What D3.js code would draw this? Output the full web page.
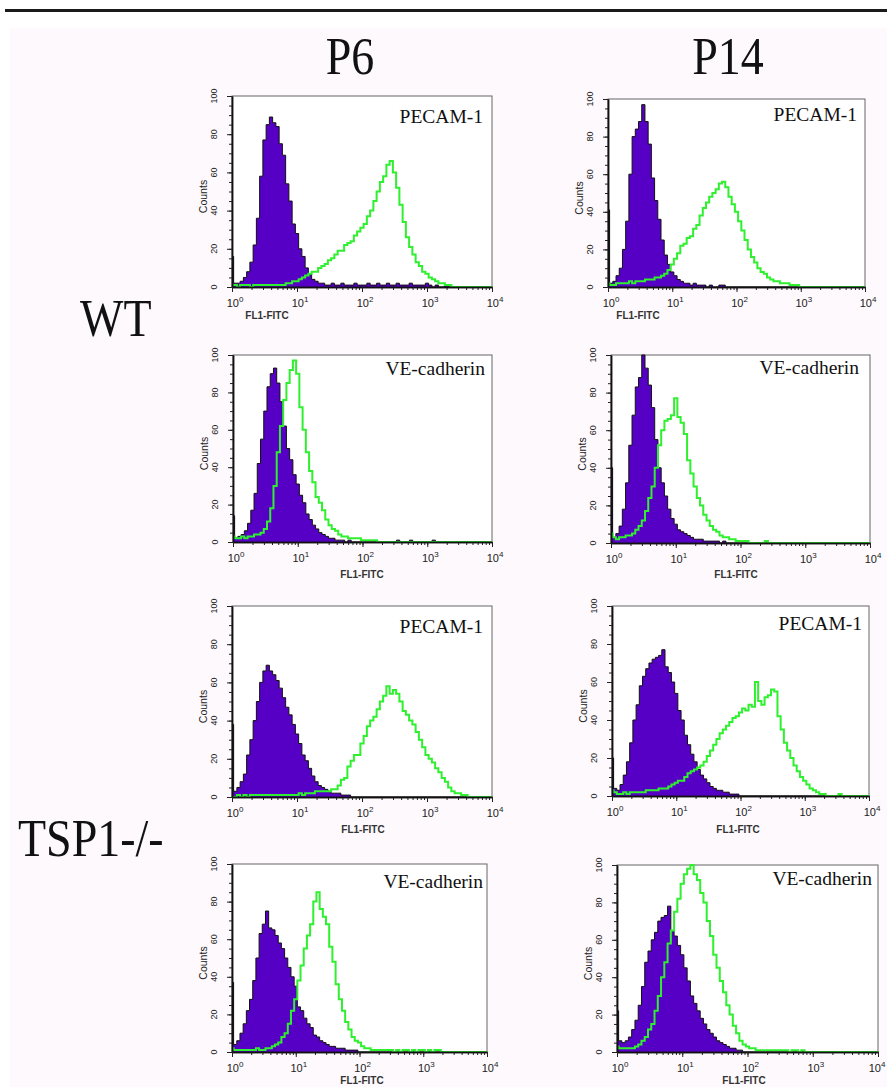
<!DOCTYPE html>
<html><head><meta charset="utf-8">
<script src="https://cdn.jsdelivr.net/npm/d3@7"></script>
<style>
html,body{margin:0;padding:0;background:#fff;}
svg{display:block;}
</style></head><body>
<svg id="chart" width="887" height="1087"></svg>
<script>
// ---------- DATA ----------
const columnLabels = ["P6", "P14"];
const rowLabels = ["WT", "TSP1-/-"];
const markerLabels = ["PECAM-1", "VE-cadherin"];
const yTickValues = [0, 20, 40, 60, 80, 100];
const xTickExponents = [0, 1, 2, 3, 4];
const xAxisTitle = "FL1-FITC";
const yAxisTitle = "Counts";
const logStep = 0.05; // bin width in decades (81 bins from 10^0 to 10^4)

// WT, P6, PECAM-1
const wtP6PecamControl = [16,2,2,3,5,8,13,22,36,58, 77,85,89,86,84,75,69,54,45,33, 28,20,16,10,7,4,3,2,2,1, 1,2,1,1,2,1,1,1,2,1, 1,1,2,1,1,2,1,1,2,1, 1,2,1,1,1,2,1,1,1,1, 2,1,0,1,0,0,1,0,0,0, 0,0,0,0,0,0,0,0,0,0, 0];
const wtP6PecamStained = [1,1,0,1,1,1,0,1,1,1, 1,1,1,1,1,1,1,2,2,3, 3,4,5,6,7,8,8,10,11,12, 14,15,17,19,19,22,23,24,27,29, 31,33,37,40,45,50,55,58,64,66, 60,52,43,34,26,21,17,13,11,8, 7,5,4,3,2,2,1,1,0,0, 0,0,0,0,0,0,0,0,0,0, 0];
// WT, P14, PECAM-1
const wtP14PecamControl = [41,2,3,6,10,20,35,60,80,84, 88,97,88,76,58,46,36,25,17,12, 8,6,4,3,2,2,1,2,1,1, 1,0,1,0,0,1,1,0,0,0, 0,0,0,0,0,0,0,0,0,0, 0,0,0,0,0,0,0,0,0,0, 0,0,0,0,0,0,0,0,0,0, 0,0,0,0,0,0,0,0,0,0, 0];
const wtP14PecamStained = [2,1,1,2,2,2,2,3,2,3, 3,3,4,4,4,5,5,6,7,9, 12,15,18,22,23,26,27,31,33,38, 42,45,48,50,52,55,56,53,48,44, 40,35,30,25,20,16,13,10,8,7, 5,4,3,3,2,2,2,1,1,1, 0,0,0,0,0,0,0,0,0,0, 0,0,0,0,0,0,0,0,0,0, 0];
// WT, P6, VE-cadherin
const wtP6VeControl = [14,2,3,4,6,10,17,26,42,55, 70,83,90,93,85,75,62,50,44,36, 31,25,21,15,12,9,7,5,4,3, 2,2,1,1,1,0,1,0,0,0, 0,0,0,0,0,0,0,0,0,0, 0,1,0,0,0,1,0,0,0,0, 0,0,1,0,0,0,0,0,0,0, 0,0,0,0,0,0,0,0,0,0, 0];
const wtP6VeStained = [3,2,2,3,2,3,3,4,4,5, 7,11,18,30,48,62,76,85,92,97, 90,72,60,48,38,32,24,21,17,12, 9,7,6,4,3,3,2,2,2,2, 1,1,1,1,1,0,0,0,0,0, 0,0,0,0,0,0,0,0,0,0, 0,0,0,0,0,0,0,0,0,0, 0,0,0,0,0,0,0,0,0,0, 0];
// WT, P14, VE-cadherin
const wtP14VeControl = [40,3,5,9,18,32,52,68,83,88, 100,93,84,72,55,40,32,25,18,13, 10,7,6,5,4,3,2,2,2,1, 1,1,1,1,0,1,0,0,0,0, 0,0,0,0,0,0,0,0,0,0, 0,0,0,0,0,0,0,0,0,0, 0,0,0,0,0,0,0,0,0,0, 0,0,0,0,0,0,0,0,0,0, 0];
const wtP14VeStained = [5,3,2,3,3,4,4,5,7,9, 12,17,24,30,40,52,60,65,66,68, 77,67,64,58,44,37,30,24,20,15, 12,9,7,6,4,3,3,2,2,1, 1,1,1,0,0,0,0,0,1,0, 0,0,0,0,0,0,0,0,0,0, 0,0,0,0,0,0,0,0,0,0, 0,0,0,0,0,0,0,0,0,0, 0];
// TSP1-/-, P6, PECAM-1
const koP6PecamControl = [38,3,5,8,12,22,30,40,50,60, 66,69,66,64,61,57,52,47,43,38, 33,28,22,19,15,11,8,6,5,4, 3,2,2,2,1,1,1,0,0,0, 0,0,0,0,0,0,0,0,0,0, 0,0,0,0,0,0,0,0,0,0, 0,0,0,0,0,0,0,0,0,0, 0,0,0,0,0,0,0,0,0,0, 0];
const koP6PecamStained = [0,0,1,0,1,0,1,1,1,1, 1,1,1,1,1,1,1,1,1,1, 1,2,1,2,2,2,3,3,3,3, 3,4,4,6,9,10,16,19,22,22, 28,32,37,40,42,46,50,53,58,54, 56,54,50,45,43,40,38,34,30,26, 22,20,18,15,13,10,8,5,3,2, 2,1,1,0,0,0,0,0,0,0, 0];
// TSP1-/-, P14, PECAM-1
const koP14PecamControl = [20,4,3,6,11,18,28,40,48,58, 63,67,70,72,73,74,77,68,65,60, 54,45,40,32,27,22,18,14,11,9, 7,5,4,3,3,2,2,1,1,1, 0,0,0,0,0,0,0,0,0,0, 0,0,0,0,0,0,0,0,0,0, 0,0,0,0,0,0,0,0,0,0, 0,0,0,0,0,0,0,0,0,0, 0];
const koP14PecamStained = [3,2,1,1,2,1,2,2,2,2, 2,3,3,3,3,4,4,4,5,6, 7,8,8,10,12,13,14,15,16,18, 21,24,27,30,33,35,37,39,41,42, 44,46,45,48,47,60,50,48,52,53, 56,55,42,35,28,24,20,16,13,10, 8,6,4,3,2,1,1,0,0,0, 0,1,0,0,0,0,0,0,0,0, 0];
// TSP1-/-, P6, VE-cadherin
const koP6VeControl = [37,4,6,10,15,22,28,38,50,63, 68,75,66,65,62,58,55,50,45,40, 35,24,22,18,15,13,9,8,6,5, 4,3,3,2,2,2,1,1,1,1, 0,0,0,0,0,0,0,0,0,0, 0,0,0,0,0,0,0,0,0,0, 0,0,0,0,0,0,0,0,0,0, 0,0,0,0,0,0,0,0,0,0, 0];
const koP6VeStained = [2,1,1,1,1,1,1,1,2,1, 1,2,2,3,4,5,8,10,15,22, 28,38,46,55,62,68,80,85,76,72, 68,56,48,36,28,22,16,12,8,6, 5,3,2,2,1,1,1,1,1,1, 1,0,1,0,1,1,0,1,0,1, 1,0,1,0,1,1,0,0,0,0, 0,0,0,0,0,0,0,0,0,0, 0];
// TSP1-/-, P14, VE-cadherin
const koP14VeControl = [22,6,5,6,8,12,17,25,35,48, 54,60,64,70,72,73,78,65,62,57, 52,45,38,30,26,22,18,15,12,10, 8,6,5,4,3,2,2,1,1,0, 0,0,0,0,0,0,0,0,0,0, 0,0,0,0,0,0,0,0,0,0, 0,0,0,0,0,0,0,0,0,0, 0,0,0,0,0,0,0,0,0,0, 0];
const koP14VeStained = [3,2,2,2,2,2,3,4,6,8, 12,15,22,30,40,48,58,65,75,82, 90,95,98,100,95,92,85,80,70,62, 52,45,38,32,25,20,14,10,6,4, 3,2,2,1,1,1,1,1,1,1, 1,1,1,0,1,1,0,1,0,0, 0,0,0,0,0,0,0,0,0,0, 0,0,0,0,0,0,0,0,0,0, 0];

// ---------- PANEL ORDER ----------
const panels = [
  {col:0, row:0, marker:markerLabels[0], control:wtP6PecamControl,  stained:wtP6PecamStained},
  {col:1, row:0, marker:markerLabels[0], control:wtP14PecamControl, stained:wtP14PecamStained},
  {col:0, row:0, marker:markerLabels[1], control:wtP6VeControl,     stained:wtP6VeStained},
  {col:1, row:0, marker:markerLabels[1], control:wtP14VeControl,    stained:wtP14VeStained},
  {col:0, row:1, marker:markerLabels[0], control:koP6PecamControl,  stained:koP6PecamStained},
  {col:1, row:1, marker:markerLabels[0], control:koP14PecamControl, stained:koP14PecamStained},
  {col:0, row:1, marker:markerLabels[1], control:koP6VeControl,     stained:koP6VeStained},
  {col:1, row:1, marker:markerLabels[1], control:koP14VeControl,    stained:koP14VeStained}
];

// ---------- LAYOUT (pixels) ----------
const layout = [
  {l:232, t:96,  r:492, b:287,  mx:9,  my:27, tx:267, ty:319},
  {l:608, t:99,  r:865, b:287,  mx:8,  my:22, tx:638, ty:319},
  {l:233, t:355, r:492, b:542,  mx:7,  my:20, tx:362, ty:578},
  {l:611, t:355, r:870, b:543,  mx:11, my:19, tx:736, ty:578},
  {l:232, t:606, r:492, b:797,  mx:9,  my:27, tx:363, ty:833},
  {l:612, t:606, r:869, b:796,  mx:7,  my:24, tx:738, ty:833},
  {l:232, t:864, r:487, b:1052, mx:4,  my:24, tx:362, ty:1084},
  {l:617, t:865, r:878, b:1052, mx:6,  my:20, tx:744, ty:1084}
];
const colLabelPos = [{x:350, y:74}, {x:728, y:74}];
const rowLabelPos = [{x:80, y:336}, {x:18, y:856}];
const pageWidth = 887;

const purple = "#5600c6";
const green = "#2ef02e";
const sans = "'Liberation Sans', Arial, sans-serif";
const serif = "'Liberation Serif', 'Times New Roman', serif";

const channels = d3.range(wtP6PecamControl.length).map(i => Math.pow(10, i * logStep));

const svg = d3.select("#chart");
svg.append("rect").attr("width", 887).attr("height", 1087).attr("fill", "#fff");
svg.append("rect").attr("x", 10).attr("y", 28).attr("width", 877).attr("height", 1059).attr("fill", "#fdf9fc");
svg.append("line").attr("x1", 5).attr("x2", 887).attr("y1", 10.5).attr("y2", 10.5)
  .attr("stroke", "#1a1a1a").attr("stroke-width", 3);

// column / row labels
svg.selectAll(".colLab").data(columnLabels).join("text")
  .attr("transform", (d, i) => `translate(${colLabelPos[i].x},${colLabelPos[i].y}) scale(1,1.15)`)
  .attr("text-anchor", "middle").attr("font-family", serif).attr("font-size", 46)
  .attr("fill", "#111").text(d => d);
svg.selectAll(".rowLab").data(rowLabels).join("text")
  .attr("transform", (d, i) => `translate(${rowLabelPos[i].x},${rowLabelPos[i].y}) scale(1,1.15)`)
  .attr("text-anchor", "start").attr("font-family", serif).attr("font-size", 46)
  .attr("fill", "#111").text(d => d);

panels.forEach((p, k) => {
  const L = layout[k];
  const g = svg.append("g");
  const x = d3.scaleLog().domain([1, 1e4]).range([L.l, L.r]);
  const y = d3.scaleLinear().domain([0, 100]).range([L.b, L.t]);

  g.append("rect").attr("x", L.l).attr("y", L.t).attr("width", L.r - L.l).attr("height", L.b - L.t)
    .attr("fill", "#fff").attr("stroke", "#666").attr("stroke-width", 1);

  const cid = "clip" + k;
  svg.append("clipPath").attr("id", cid).append("rect")
    .attr("x", L.l).attr("y", L.t - 2).attr("width", L.r - L.l).attr("height", L.b - L.t + 2);
  const pg = g.append("g").attr("clip-path", `url(#${cid})`);

  const ctrl = p.control.map((c, i) => ({v: channels[i], c}));
  const stn = p.stained.map((c, i) => ({v: channels[i], c}));
  const area = d3.area().x(d => x(d.v)).y0(y(0)).y1(d => y(d.c)).curve(d3.curveStep);
  const line = d3.line().x(d => x(d.v)).y(d => y(d.c)).curve(d3.curveStep);

  pg.append("path").datum(ctrl).attr("d", area).attr("fill", purple);
  pg.append("path").datum(ctrl).attr("d", line).attr("fill", "none")
    .attr("stroke", "#111").attr("stroke-width", 1);
  pg.append("path").datum(stn).attr("d", line).attr("fill", "none")
    .attr("stroke", green).attr("stroke-width", 2).attr("stroke-linejoin", "miter");

  // axes
  const yMinor = d3.axisLeft(y).tickValues(y.ticks(20)).tickSize(3).tickSizeOuter(0).tickFormat("");
  const yMajor = d3.axisLeft(y).tickValues(yTickValues).tickSize(5).tickSizeOuter(0).tickFormat("");
  const xMinor = d3.axisBottom(x).tickValues(x.ticks()).tickSize(3).tickSizeOuter(0).tickFormat("");
  const xMajor = d3.axisBottom(x).tickValues(xTickExponents.map(e => Math.pow(10, e))).tickSize(5).tickSizeOuter(0).tickFormat("");
  [yMinor, yMajor].forEach(a => g.append("g").attr("transform", `translate(${L.l},0)`).call(a));
  [xMinor, xMajor].forEach(a => g.append("g").attr("transform", `translate(0,${L.b})`).call(a));
  g.selectAll(".domain").attr("stroke", "#111").attr("stroke-width", 1.5);
  g.selectAll(".tick line").attr("stroke", "#222").attr("stroke-width", 1);

  // y tick labels (rotated)
  g.selectAll(".ylab").data(yTickValues).join("text")
    .attr("transform", d => `translate(${L.l - 15},${y(d)}) rotate(-90)`)
    .attr("text-anchor", "middle").attr("font-family", sans).attr("font-size", 9)
    .attr("fill", "#222").text(d => d);
  g.append("text")
    .attr("transform", `translate(${L.l - 25},${(L.t + L.b) / 2 + 5}) rotate(-90)`)
    .attr("text-anchor", "middle").attr("font-family", sans).attr("font-size", 10.5)
    .attr("fill", "#222").text(yAxisTitle);

  // x tick labels 10^n (kept inside the page)
  const xl = g.selectAll(".xlab").data(xTickExponents).join("text")
    .attr("x", d => Math.min(x(Math.pow(10, d)) + 3, pageWidth - 10)).attr("y", L.b + 20)
    .attr("text-anchor", "middle").attr("font-family", sans).attr("font-size", 11).attr("fill", "#222");
  xl.append("tspan").text("10");
  xl.append("tspan").attr("dy", -5).attr("font-size", 8).text(d => d);

  g.append("text").attr("x", L.tx).attr("y", L.ty).attr("text-anchor", "middle")
    .attr("font-family", sans).attr("font-size", 10).attr("font-weight", "bold")
    .attr("fill", "#333").text(xAxisTitle);

  // marker label
  g.append("text").attr("x", L.r - L.mx).attr("y", L.t + L.my).attr("text-anchor", "end")
    .attr("font-family", serif).attr("font-size", 19.5).attr("fill", "#111").text(p.marker);
});
</script>
</body></html>
